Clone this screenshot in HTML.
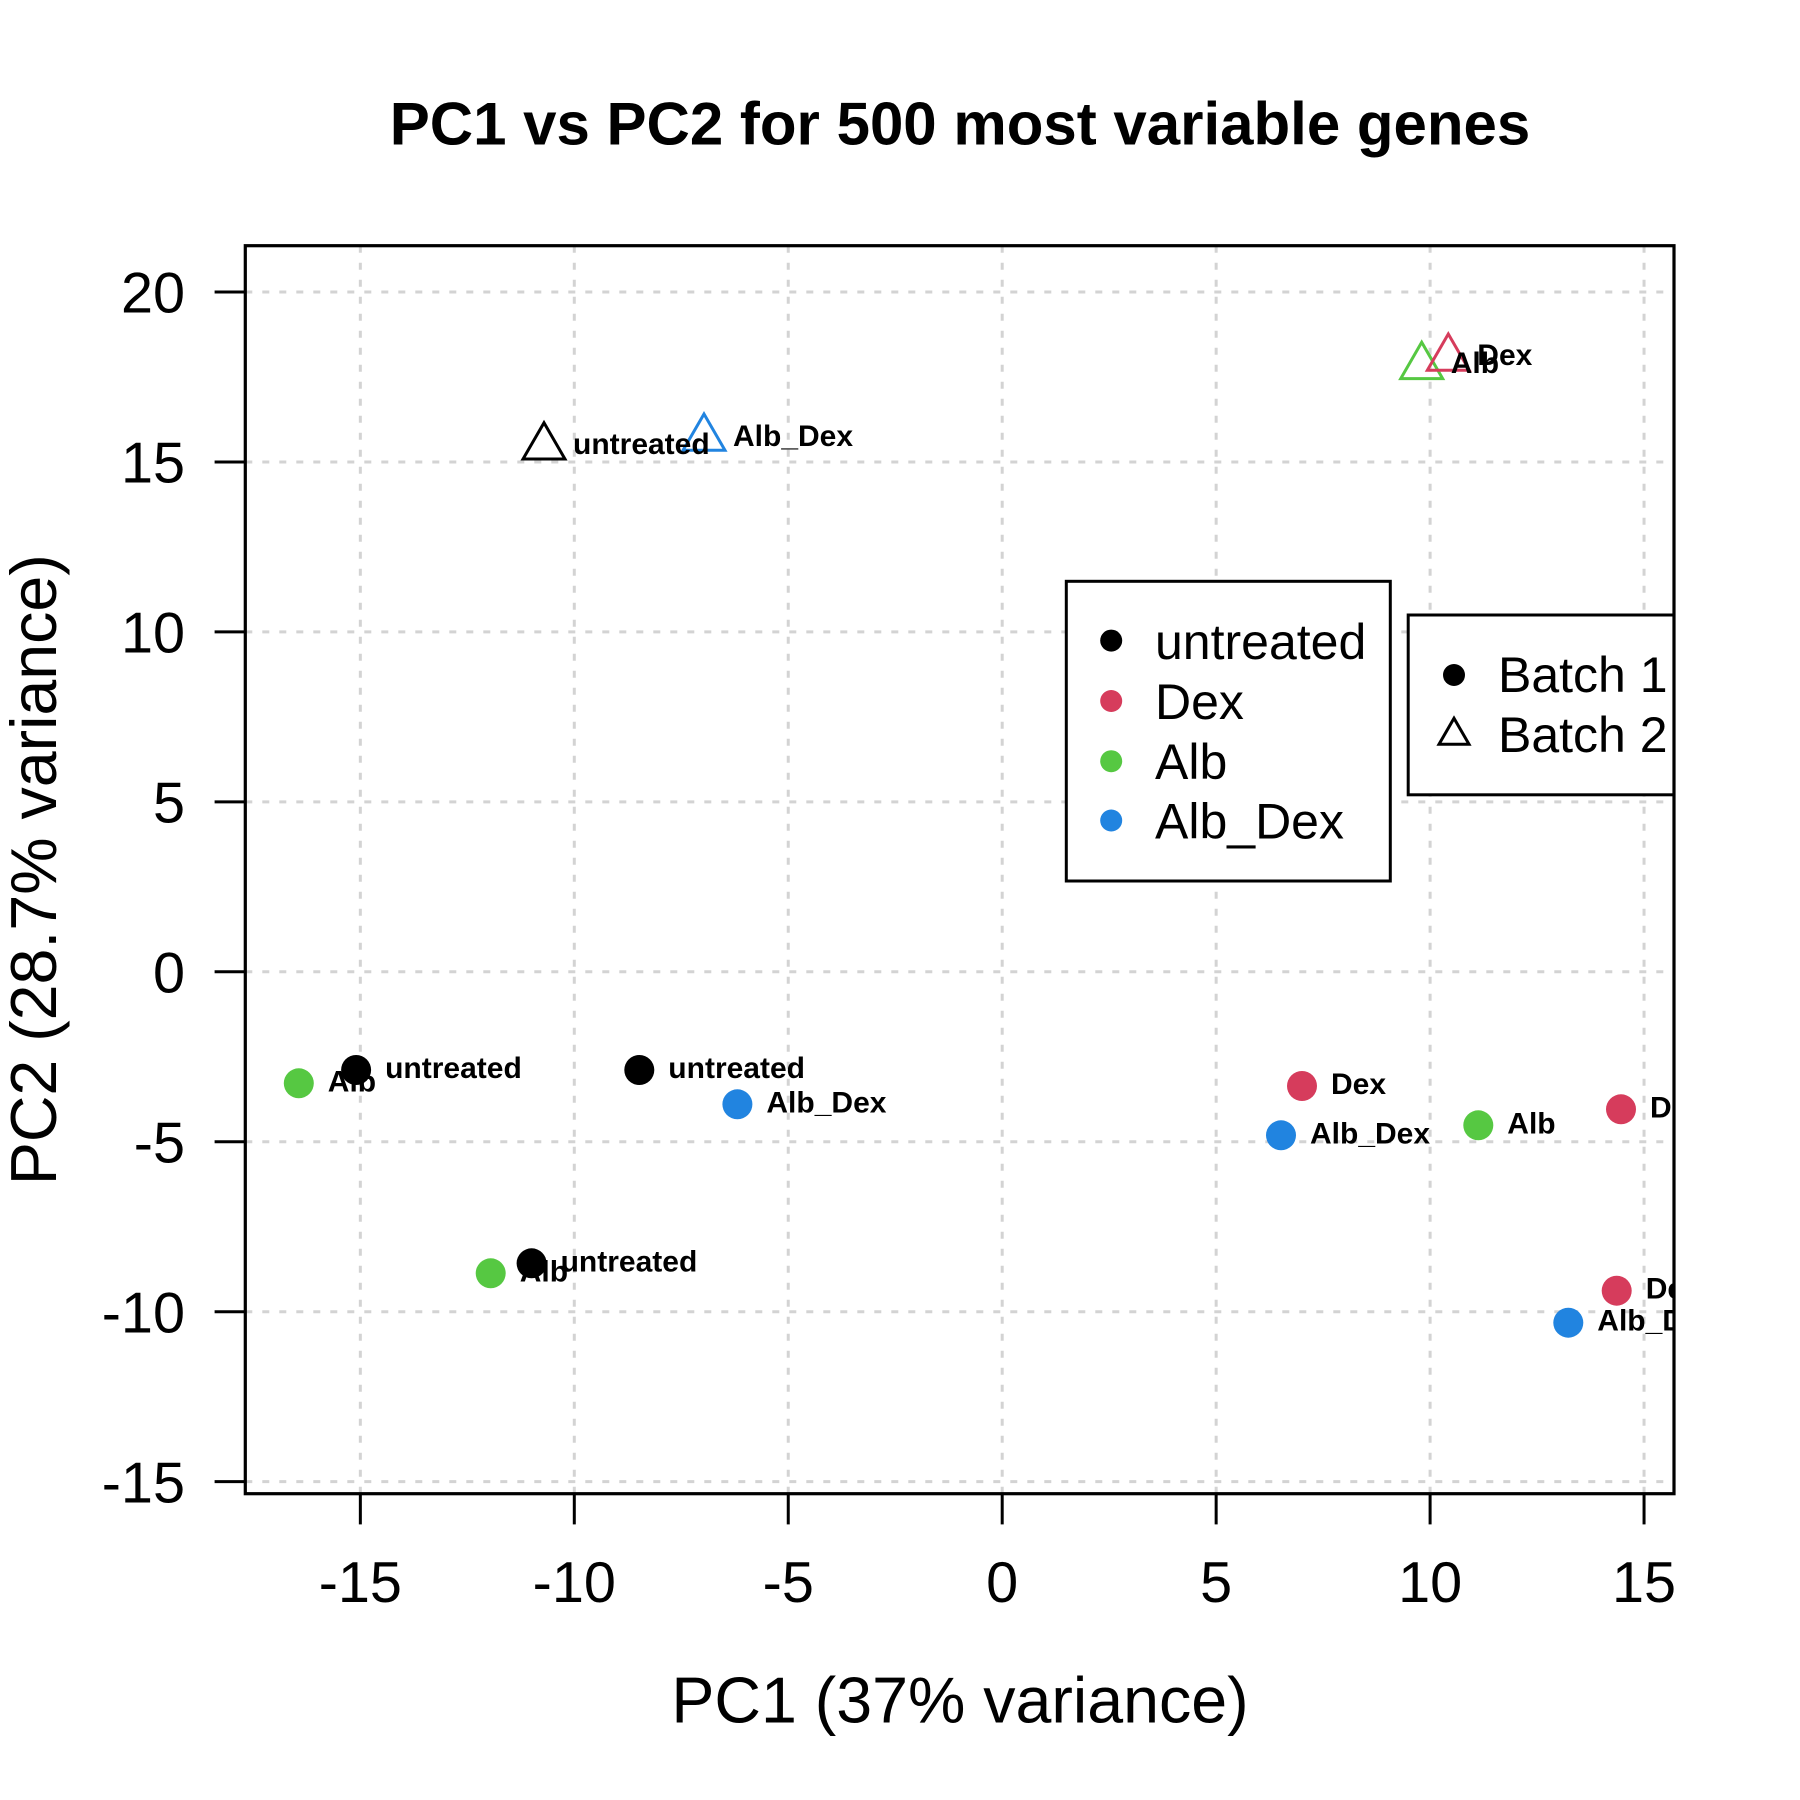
<!DOCTYPE html>
<html>
<head>
<meta charset="utf-8">
<style>
html,body{margin:0;padding:0;background:#fff;}
svg{display:block;}
text{font-family:"Liberation Sans",Arial,sans-serif;}
</style>
</head>
<body>
<svg width="1800" height="1800" viewBox="0 0 1800 1800" xmlns="http://www.w3.org/2000/svg">
<defs>
<clipPath id="plot"><rect x="245.3" y="245.7" width="1428.7" height="1248"/></clipPath>
</defs>
<rect x="0" y="0" width="1800" height="1800" fill="#fff"/>

<!-- title -->
<text x="960" y="144.6" font-size="60" font-weight="bold" text-anchor="middle">PC1 vs PC2 for 500 most variable genes</text>

<g clip-path="url(#plot)">
<!-- grid -->
<g stroke="#d3d3d3" stroke-width="3" stroke-dasharray="7 10" fill="none">
<line x1="360.35" y1="1493.7" x2="360.35" y2="245.7"/>
<line x1="574.3" y1="1493.7" x2="574.3" y2="245.7"/>
<line x1="788.25" y1="1493.7" x2="788.25" y2="245.7"/>
<line x1="1002.2" y1="1493.7" x2="1002.2" y2="245.7"/>
<line x1="1216.15" y1="1493.7" x2="1216.15" y2="245.7"/>
<line x1="1430.1" y1="1493.7" x2="1430.1" y2="245.7"/>
<line x1="1644.05" y1="1493.7" x2="1644.05" y2="245.7"/>
<line x1="245.3" y1="292" x2="1674" y2="292"/>
<line x1="245.3" y1="461.95" x2="1674" y2="461.95"/>
<line x1="245.3" y1="631.9" x2="1674" y2="631.9"/>
<line x1="245.3" y1="801.85" x2="1674" y2="801.85"/>
<line x1="245.3" y1="971.8" x2="1674" y2="971.8"/>
<line x1="245.3" y1="1141.75" x2="1674" y2="1141.75"/>
<line x1="245.3" y1="1311.7" x2="1674" y2="1311.7"/>
<line x1="245.3" y1="1481.65" x2="1674" y2="1481.65"/>
</g>

<!-- circle points (batch 1) -->
<circle cx="298.8" cy="1083.3" r="15" fill="#56C842"/>
<circle cx="356.1" cy="1070" r="15" fill="#000"/>
<circle cx="639.3" cy="1070" r="15" fill="#000"/>
<circle cx="737.4" cy="1104.3" r="15" fill="#2184E0"/>
<circle cx="490.7" cy="1273.3" r="15" fill="#56C842"/>
<circle cx="531.6" cy="1263.3" r="15" fill="#000"/>
<circle cx="1302" cy="1086" r="15" fill="#D63C5C"/>
<circle cx="1281" cy="1135.3" r="15" fill="#2184E0"/>
<circle cx="1478.3" cy="1125.3" r="15" fill="#56C842"/>
<circle cx="1621" cy="1109.3" r="15" fill="#D63C5C"/>
<circle cx="1616.7" cy="1290.7" r="15" fill="#D63C5C"/>
<circle cx="1568.3" cy="1322.7" r="15" fill="#2184E0"/>

<!-- triangles (batch 2) -->
<g fill="none" stroke-width="3" stroke-linejoin="miter">
<polygon points="544,422.7 564.96,459 523.04,459" stroke="#000"/>
<polygon points="704,414 724.96,450.3 683.04,450.3" stroke="#2184E0"/>
<polygon points="1421.7,342.3 1442.66,378.6 1400.74,378.6" stroke="#56C842"/>
<polygon points="1448.3,334 1469.26,370.3 1427.34,370.3" stroke="#D63C5C"/>
</g>

<!-- point labels -->
<g font-size="30" font-weight="bold" fill="#000">
<text x="327.8" y="1091.3">Alb</text>
<text x="385.1" y="1078">untreated</text>
<text x="668.3" y="1078">untreated</text>
<text x="766.4" y="1112.3">Alb_Dex</text>
<text x="519.7" y="1281.3">Alb</text>
<text x="560.6" y="1271.3">untreated</text>
<text x="1331" y="1094">Dex</text>
<text x="1310" y="1143.3">Alb_Dex</text>
<text x="1507.3" y="1133.3">Alb</text>
<text x="1650" y="1117.3">Dex</text>
<text x="1645.7" y="1298.7">Dex</text>
<text x="1597.3" y="1330.7">Alb_Dex</text>
<text x="573" y="454">untreated</text>
<text x="733" y="446">Alb_Dex</text>
<text x="1450.7" y="373">Alb</text>
<text x="1477.3" y="365">Dex</text>
</g>

<!-- legend 1 -->
<rect x="1066.3" y="581.3" width="324" height="299.7" fill="#fff" stroke="#000" stroke-width="3"/>
<circle cx="1111.2" cy="640.6" r="11" fill="#000"/>
<circle cx="1111.2" cy="701" r="11" fill="#D63C5C"/>
<circle cx="1111.2" cy="761.2" r="11" fill="#56C842"/>
<circle cx="1111.2" cy="820.5" r="11" fill="#2184E0"/>
<g font-size="50" fill="#000">
<text x="1155" y="659">untreated</text>
<text x="1155" y="719">Dex</text>
<text x="1155" y="779">Alb</text>
<text x="1155" y="838.5">Alb_Dex</text>
</g>

<!-- legend 2 -->
<rect x="1408.2" y="615" width="300" height="179.8" fill="#fff" stroke="#000" stroke-width="3"/>
<circle cx="1454" cy="675" r="11" fill="#000"/>
<polygon points="1454,718.3 1469,744.3 1439,744.3" fill="none" stroke="#000" stroke-width="3"/>
<g font-size="50" fill="#000">
<text x="1498" y="692">Batch 1</text>
<text x="1498" y="752">Batch 2</text>
</g>
</g>

<!-- plot box -->
<rect x="245.3" y="245.7" width="1428.7" height="1248" fill="none" stroke="#000" stroke-width="3.2"/>

<!-- x ticks -->
<g stroke="#000" stroke-width="3">
<line x1="360.35" y1="1493.7" x2="360.35" y2="1524.4"/>
<line x1="574.3" y1="1493.7" x2="574.3" y2="1524.4"/>
<line x1="788.25" y1="1493.7" x2="788.25" y2="1524.4"/>
<line x1="1002.2" y1="1493.7" x2="1002.2" y2="1524.4"/>
<line x1="1216.15" y1="1493.7" x2="1216.15" y2="1524.4"/>
<line x1="1430.1" y1="1493.7" x2="1430.1" y2="1524.4"/>
<line x1="1644.05" y1="1493.7" x2="1644.05" y2="1524.4"/>
<!-- y ticks -->
<line x1="245.3" y1="292" x2="214.6" y2="292"/>
<line x1="245.3" y1="461.95" x2="214.6" y2="461.95"/>
<line x1="245.3" y1="631.9" x2="214.6" y2="631.9"/>
<line x1="245.3" y1="801.85" x2="214.6" y2="801.85"/>
<line x1="245.3" y1="971.8" x2="214.6" y2="971.8"/>
<line x1="245.3" y1="1141.75" x2="214.6" y2="1141.75"/>
<line x1="245.3" y1="1311.7" x2="214.6" y2="1311.7"/>
<line x1="245.3" y1="1481.65" x2="214.6" y2="1481.65"/>
</g>

<!-- x tick labels -->
<g font-size="57.6" fill="#000" text-anchor="middle">
<text x="360.35" y="1602">-15</text>
<text x="574.3" y="1602">-10</text>
<text x="788.25" y="1602">-5</text>
<text x="1002.2" y="1602">0</text>
<text x="1216.15" y="1602">5</text>
<text x="1430.1" y="1602">10</text>
<text x="1644.05" y="1602">15</text>
</g>

<!-- y tick labels -->
<g font-size="57.6" fill="#000" text-anchor="end">
<text x="185" y="312.6">20</text>
<text x="185" y="482.6">15</text>
<text x="185" y="652.5">10</text>
<text x="185" y="822.5">5</text>
<text x="185" y="992.4">0</text>
<text x="185" y="1162.4">-5</text>
<text x="185" y="1332.3">-10</text>
<text x="185" y="1502.3">-15</text>
</g>

<!-- axis labels -->
<text x="960" y="1722.7" font-size="64.5" text-anchor="middle">PC1 (37% variance)</text>
<text transform="translate(55.8,869.7) rotate(-90)" font-size="64.5" text-anchor="middle">PC2 (28.7% variance)</text>
</svg>
</body>
</html>
